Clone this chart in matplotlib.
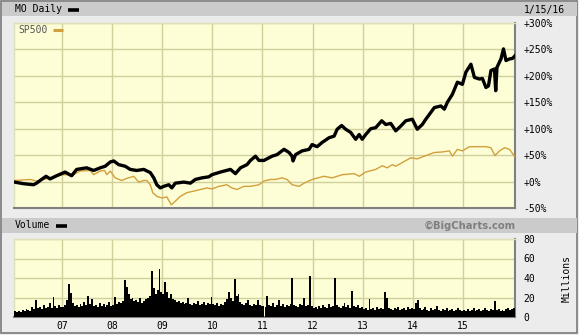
import numpy as np
import matplotlib
matplotlib.use("Agg")
import matplotlib.pyplot as plt
from matplotlib.patches import Rectangle
from matplotlib.lines import Line2D

# ---------------- data ----------------
mo_t = [2006.05, 2006.23, 2006.43, 2006.49, 2006.59, 2006.68, 2006.76, 2006.89,
        2007.06, 2007.19, 2007.29, 2007.49, 2007.63, 2007.76, 2007.86, 2007.96,
        2008.03, 2008.13, 2008.26, 2008.36, 2008.49, 2008.63, 2008.76, 2008.83,
        2008.89, 2008.96, 2009.03, 2009.13, 2009.19, 2009.26, 2009.43, 2009.56,
        2009.66, 2009.79, 2009.93, 2009.99, 2010.16, 2010.36, 2010.46, 2010.56,
        2010.69, 2010.76, 2010.86, 2010.93, 2011.03, 2011.13, 2011.19, 2011.29,
        2011.43, 2011.53, 2011.59, 2011.61, 2011.66, 2011.79, 2011.93, 2011.99,
        2012.09, 2012.19, 2012.33, 2012.43, 2012.49, 2012.58, 2012.66, 2012.76,
        2012.86, 2012.93, 2012.99, 2013.06, 2013.16, 2013.26, 2013.38, 2013.46,
        2013.56, 2013.66, 2013.76, 2013.86, 2013.99, 2014.09, 2014.19, 2014.26,
        2014.33, 2014.43, 2014.56, 2014.63, 2014.69, 2014.79, 2014.89, 2014.99,
        2015.06, 2015.16, 2015.23, 2015.33, 2015.39, 2015.46, 2015.51, 2015.56,
        2015.63, 2015.655, 2015.68, 2015.76, 2015.81, 2015.86, 2015.93, 2015.99,
        2016.04]
mo_v = [-1, -4, -6, -3, 4, 10, 5, 11,
        18, 11, 23, 26, 21, 26, 29, 37,
        39, 32, 29, 23, 21, 23, 17, 7,
        -6, -12, -9, -6, -12, -3, -1, -3,
        4, 7, 9, 13, 18, 23, 15, 26,
        32, 40, 48, 40, 40, 45, 48, 51,
        61, 55, 48, 39, 51, 58, 61, 70,
        66, 74, 83, 86, 99, 106, 99, 93,
        80, 89, 80, 89, 100, 102, 115, 108,
        110, 96, 105, 115, 118, 99, 108, 118,
        127, 140, 143, 137, 150, 165, 188, 184,
        207, 222, 197, 194, 195, 178, 181, 210,
        213, 172, 216, 232, 251, 229, 232, 233,
        238]

sp_t = [2006.05, 2006.36, 2006.49, 2006.63, 2006.83, 2007.03, 2007.23, 2007.36,
        2007.56, 2007.63, 2007.76, 2007.85, 2007.89, 2007.96, 2008.06, 2008.19,
        2008.29, 2008.43, 2008.53, 2008.63, 2008.69, 2008.76, 2008.81, 2008.89,
        2008.99, 2009.09, 2009.18, 2009.26, 2009.36, 2009.49, 2009.63, 2009.76,
        2009.89, 2009.99, 2010.13, 2010.29, 2010.39, 2010.49, 2010.63, 2010.76,
        2010.93, 2011.03, 2011.16, 2011.26, 2011.39, 2011.49, 2011.59, 2011.73,
        2011.83, 2011.99, 2012.23, 2012.39, 2012.59, 2012.83, 2012.93, 2013.06,
        2013.26, 2013.39, 2013.49, 2013.59, 2013.66, 2013.79, 2013.96, 2014.09,
        2014.23, 2014.43, 2014.59, 2014.73, 2014.79, 2014.89, 2014.99, 2015.13,
        2015.29, 2015.46, 2015.56, 2015.64, 2015.73, 2015.83, 2015.93, 2016.03]
sp_v = [2, 4, 1, 4, 9, 13, 13, 20,
        21, 13, 20, 21, 13, 20, 7, 2,
        6, 10, -1, 2, 2, -6, -21, -28,
        -31, -29, -44, -37, -28, -21, -18, -15,
        -12, -14, -9, -6, -12, -15, -9, -9,
        -6, 1, 4, 4, 7, 4, -6, -9,
        -3, 4, 10, 7, 13, 15, 10, 18,
        23, 30, 26, 32, 29, 36, 45, 43,
        48, 55, 56, 58, 48, 61, 58, 66,
        66, 66, 64, 49, 58, 64, 61, 48]

# volume in millions, biweekly, starting 1/15/2006
vol_start = 2006.04
vol_step = 1 / 26
vol = [
    # 2006
    6, 5, 6, 5, 7, 6, 8, 7, 6, 10, 8, 17, 9, 10, 8, 12, 9, 10, 14, 9, 21, 11, 9, 12, 10,
    # 2007
    10, 12, 17, 34, 25, 14, 11, 12, 10, 13, 11, 15, 12, 22, 13, 18, 11, 12, 10, 14, 11, 13, 10, 12, 15, 11,
    # 2008
    12, 21, 13, 15, 14, 16, 38, 31, 24, 18, 20, 16, 17, 15, 19, 14, 16, 18, 20, 22, 47, 30, 24, 28, 49, 26,
    # 2009
    24, 36, 26, 20, 24, 18, 17, 15, 16, 14, 15, 13, 14, 19, 13, 12, 14, 13, 16, 12, 13, 15, 12, 14, 13, 21,
    # 2010
    13, 12, 14, 11, 13, 12, 15, 18, 26, 20, 16, 39, 22, 24, 15, 13, 12, 14, 17, 12, 11, 13, 12, 17, 12, 11,
    # 2011
    11, 10, 22, 12, 11, 14, 10, 12, 17, 11, 13, 10, 12, 11, 13, 40, 12, 11, 10, 13, 12, 19, 11, 12, 42, 11,
    # 2012
    9, 10, 8, 11, 9, 12, 10, 9, 13, 10, 11, 40, 12, 10, 9, 11, 14, 10, 12, 9, 27, 11, 10, 12, 9, 10,
    # 2013
    8, 9, 7, 18, 8, 9, 7, 10, 8, 9, 8, 26, 19, 9, 8, 7, 9, 8, 10, 7, 8, 9, 7, 10, 8, 9,
    # 2014
    8, 14, 17, 9, 7, 8, 10, 7, 6, 9, 7, 8, 11, 7, 6, 8, 7, 9, 6, 7, 8, 6, 7, 9, 7, 6,
    # 2015
    7, 6, 8, 6, 7, 9, 6, 7, 8, 6, 7, 9, 7, 6, 8, 7, 16, 7, 8, 6, 7, 6, 8, 9, 7, 8,
    # 2016
    9,
]

year_ticks = [2007, 2008, 2009, 2010, 2011, 2012, 2013, 2014, 2015]
year_labels = ['07', '08', '09', '10', '11', '12', '13', '14', '15']
price_ticks = [-50, 0, 50, 100, 150, 200, 250, 300]
price_labels = ['-50%', '+0%', '+50%', '+100%', '+150%', '+200%', '+250%', '+300%']
vol_ticks = [0, 20, 40, 60, 80]
vol_labels = ['0', '20', '40', '60', '80']
x_range = (2006.04, 2016.04)

# ---------------- style ----------------
W, H = 579, 335
BG = '#ececec'
BAR = '#cbcbcb'
PLOT_BG = '#fdfdd6'
GRID = '#d0d09c'
GOLD = '#d2a03c'
MONO = 'DejaVu Sans Mono'

def fx(px):
    return px / W

def fy(py):
    return 1 - py / H

fig = plt.figure(figsize=(W / 100, H / 100), dpi=100, facecolor=BG)

# outer frame and header bars
fig.patches.append(Rectangle((fx(1), fy(333)), fx(577) - fx(1), fy(1) - fy(333),
                             transform=fig.transFigure, fill=False,
                             edgecolor='#7a7a7a', linewidth=1.2))
fig.patches.append(Rectangle((fx(2), fy(16)), fx(577) - fx(2), fy(2) - fy(16),
                             transform=fig.transFigure, color=BAR, linewidth=0))
fig.patches.append(Rectangle((fx(2), fy(233)), fx(577) - fx(2), fy(218) - fy(233),
                             transform=fig.transFigure, color=BAR, linewidth=0))

ax = fig.add_axes([fx(14), fy(208), fx(515) - fx(14), fy(23) - fy(208)])
axv = fig.add_axes([fx(14), fy(317), fx(515) - fx(14), fy(239) - fy(317)])

for a in (ax, axv):
    a.set_facecolor(PLOT_BG)
    a.set_xlim(*x_range)
    a.set_xticks(year_ticks)
    a.grid(True, color=GRID, linewidth=1.0)
    a.set_axisbelow(True)
    a.yaxis.tick_right()
    a.tick_params(length=0, labelsize=7)
    for s in ('top', 'left'):
        a.spines[s].set_color('#e0e0b8')
        a.spines[s].set_linewidth(1.0)
    for s in ('bottom', 'right'):
        a.spines[s].set_color('#808080')
        a.spines[s].set_linewidth(1.5)

# price panel
ax.plot(sp_t, sp_v, color=GOLD, linewidth=1.0, zorder=3)
ax.plot(mo_t, mo_v, color='black', linewidth=2.4, zorder=4)
ax.set_ylim(-50, 300)
ax.set_yticks(price_ticks)
ax.set_yticklabels(price_labels, fontfamily=MONO, fontsize=7)
ax.tick_params(axis='y', pad=6)
ax.set_xticklabels([])

# volume panel
vol_t = vol_start + np.arange(len(vol)) * vol_step
axv.bar(vol_t, vol, width=vol_step, align='edge', color='black', linewidth=0, zorder=3)
axv.set_ylim(0, 80)
axv.set_yticks(vol_ticks)
axv.set_yticklabels(vol_labels, fontfamily=MONO, fontsize=7)
axv.tick_params(axis='y', pad=6)
axv.set_xticklabels(year_labels, fontfamily=MONO, fontsize=7)
axv.tick_params(axis='x', pad=3)

# texts
fig.text(fx(15), fy(9.5), 'MO Daily', fontfamily=MONO, fontsize=7, va='center', ha='left')
fig.add_artist(Line2D([fx(68), fx(79)], [fy(9.5), fy(9.5)], color='black', linewidth=2.6,
                      transform=fig.transFigure, solid_capstyle='butt'))
fig.text(fx(565), fy(9.5), '1/15/16', fontfamily=MONO, fontsize=7, va='center', ha='right')

fig.text(fx(18), fy(30), 'SP500', fontfamily=MONO, fontsize=7, va='center', ha='left',
         color='#555555')
fig.add_artist(Line2D([fx(53), fx(63)], [fy(30), fy(30)], color=GOLD, linewidth=2.2,
                      transform=fig.transFigure, solid_capstyle='butt'))

fig.text(fx(15), fy(225.5), 'Volume', fontfamily=MONO, fontsize=7, va='center', ha='left')
fig.add_artist(Line2D([fx(56), fx(67)], [fy(225.5), fy(225.5)], color='black', linewidth=2.6,
                      transform=fig.transFigure, solid_capstyle='butt'))
fig.text(fx(516), fy(225.5), '\u00a9BigCharts.com', fontfamily='DejaVu Sans', fontweight='bold',
         fontsize=7.2, va='center', ha='right', color='#7f7f7f')
fig.text(fx(567), fy(278), 'Millions', fontfamily=MONO, fontsize=7, va='center', ha='center',
         rotation=90)

fig.savefig('out.png', dpi=100, facecolor=BG)
